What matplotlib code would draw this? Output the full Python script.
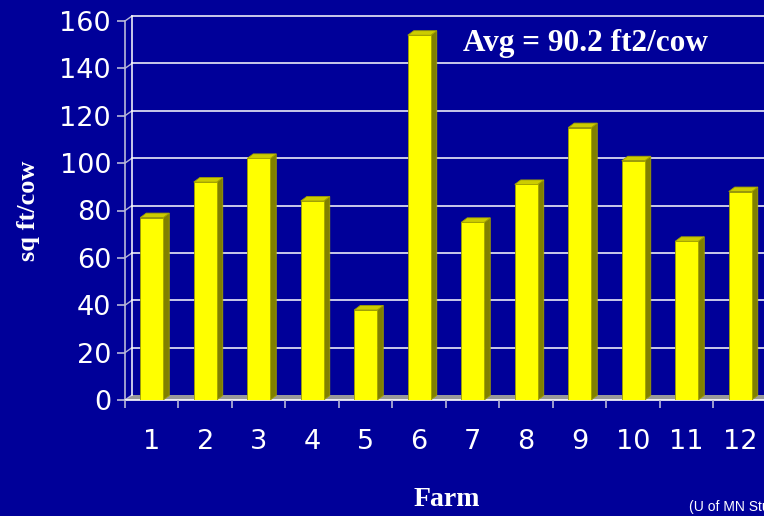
import matplotlib
matplotlib.use("Agg")
import matplotlib.pyplot as plt
from matplotlib.patches import Polygon
import numpy as np

farms = ["1", "2", "3", "4", "5", "6", "7", "8", "9", "10", "11", "12"]
sqft_per_cow = [77, 92, 102, 84, 38, 154, 75, 91, 115, 101, 67, 88]
y_ticks = [0, 20, 40, 60, 80, 100, 120, 140, 160]

BG = "#000099"
FRONT = "#FFFF00"
SIDE = "#808000"
TOP = "#CCCC00"
EDGE = "#A0A000"
TICKC = "#B8B8D8"

W, H = 764, 516
fig = plt.figure(figsize=(W / 100, H / 100), dpi=100, facecolor=BG)
ax = fig.add_axes([125 / W, 116 / H, 642 / W, 379 / H])
ax.set_facecolor(BG)
n = len(farms)
ax.set_xlim(0.5, n + 0.5)
ax.set_ylim(0, 160)
for s in ax.spines.values():
    s.set_visible(False)

# pixel -> data conversions
px_x = (n) / 642.0
px_y = 160 / 379.0
wall_dx, wall_dy = 7 * px_x, 5 * px_y
bar_dx, bar_dy = 6 * px_x, 4.5 * px_y

# floor
floor = Polygon([(0.5, 0), (n + 0.5, 0), (n + 0.5 + wall_dx, wall_dy), (0.5 + wall_dx, wall_dy)],
                closed=True, facecolor="#999999", edgecolor="none", zorder=1, clip_on=False)
ax.add_patch(floor)
ax.plot([0.5, n + 0.5 + wall_dx], [0, 0], color="white", lw=1.2, zorder=1.5, clip_on=False)

# back-wall gridlines and left wall
for v in y_ticks[1:]:
    ax.plot([0.5 + wall_dx, n + 0.5 + wall_dx], [v + wall_dy, v + wall_dy], color="white", lw=1.1,
            zorder=1, clip_on=False)
for v in y_ticks:
    ax.plot([0.5, 0.5 + wall_dx], [v, v + wall_dy], color=TICKC, lw=1.0, zorder=1, clip_on=False)
ax.plot([0.5, 0.5], [0, 160], color=TICKC, lw=1.2, zorder=1, clip_on=False)
ax.plot([0.5 + wall_dx, 0.5 + wall_dx], [wall_dy, 160 + wall_dy], color="white", lw=1.1, zorder=1,
        clip_on=False)

# bars
x = np.arange(1, n + 1)
bw = 23 * px_x
bars = ax.bar(x, sqft_per_cow, width=bw, color=FRONT, edgecolor=EDGE, linewidth=0.6, zorder=3)
for b in bars:
    x0 = b.get_x()
    x1 = x0 + b.get_width()
    h = b.get_height()
    side = Polygon([(x1, 0), (x1 + bar_dx, bar_dy), (x1 + bar_dx, h + bar_dy), (x1, h)],
                   closed=True, facecolor=SIDE, edgecolor=EDGE, lw=0.6, zorder=2.9)
    top = Polygon([(x0, h), (x0 + bar_dx, h + bar_dy), (x1 + bar_dx, h + bar_dy), (x1, h)],
                  closed=True, facecolor=TOP, edgecolor=EDGE, lw=0.6, zorder=2.9)
    ax.add_patch(side)
    ax.add_patch(top)

# ticks
ax.set_yticks(y_ticks)
ax.set_yticklabels([str(v) for v in y_ticks])
ax.tick_params(axis="y", colors=TICKC, length=6, width=1.2, pad=4, labelsize=19.5, labelcolor="white")
ax.set_xticks(x)
ax.set_xticklabels(farms)
ax.tick_params(axis="x", which="major", length=0, pad=21, labelsize=19.5, labelcolor="white")
ax.set_xticks(np.arange(0.5, n + 0.5, 1.0), minor=True)
ax.tick_params(axis="x", which="minor", colors=TICKC, length=6, width=1.2)

ax.set_ylabel("sq ft/cow", family="Liberation Serif", fontweight="bold", fontsize=19, color="white")
ax.yaxis.set_label_coords(-85 / 642, 0.5)
fig.text(447 / W, 1 - 499 / H, "Farm", family="Liberation Serif", fontweight="bold", fontsize=20,
         color="white", ha="center", va="center")
fig.text(585 / W, 1 - 44 / H, "Avg = 90.2 ft2/cow", family="Liberation Serif", fontweight="bold",
         fontsize=22.5, color="white", ha="center", va="center")
fig.text(689 / W, 1 - 511 / H, "(U of MN Study)", family="Liberation Sans", fontsize=10,
         color="white", ha="left", va="baseline")

fig.savefig("out.png", dpi=100, facecolor=BG)
